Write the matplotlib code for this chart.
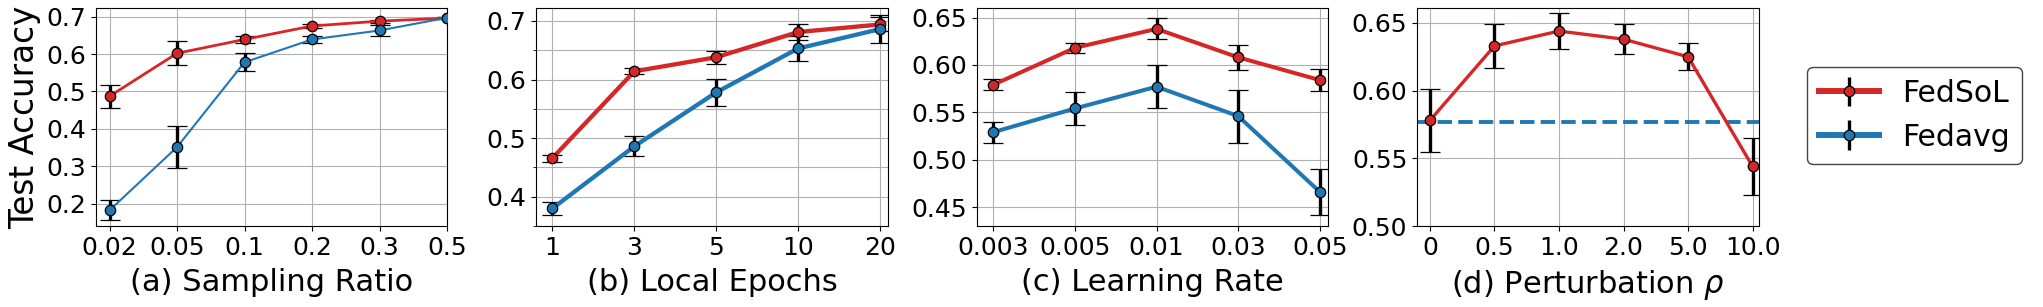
import numpy as np
import matplotlib
matplotlib.use("Agg")
import matplotlib.pyplot as plt
from matplotlib.ticker import MultipleLocator

# (a) sampling ratio
sr_labels = ["0.02", "0.05", "0.1", "0.2", "0.3", "0.5"]
sr_fedsol = [0.487, 0.602, 0.639, 0.675, 0.688, 0.696]
sr_fedsol_err = [0.031, 0.032, 0.010, 0.005, 0.004, 0.003]
sr_fedavg = [0.182, 0.351, 0.578, 0.639, 0.663, 0.697]
sr_fedavg_err = [0.027, 0.057, 0.024, 0.009, 0.014, 0.003]

# (b) local epochs
ep_labels = ["1", "3", "5", "10", "20"]
ep_fedsol = [0.466, 0.614, 0.638, 0.681, 0.694]
ep_fedsol_err = [0.006, 0.005, 0.011, 0.013, 0.012]
ep_fedavg = [0.380, 0.486, 0.578, 0.653, 0.686]
ep_fedavg_err = [0.011, 0.017, 0.023, 0.022, 0.024]

# (c) learning rate
lr_labels = ["0.003", "0.005", "0.01", "0.03", "0.05"]
lr_fedsol = [0.579, 0.618, 0.638, 0.608, 0.584]
lr_fedsol_err = [0.006, 0.005, 0.011, 0.013, 0.012]
lr_fedavg = [0.529, 0.554, 0.577, 0.546, 0.466]
lr_fedavg_err = [0.011, 0.017, 0.023, 0.028, 0.024]

# (d) perturbation rho
rho_labels = ["0", "0.5", "1.0", "2.0", "5.0", "10.0"]
rho_fedsol = [0.578, 0.633, 0.644, 0.638, 0.625, 0.544]
rho_fedsol_err = [0.023, 0.016, 0.013, 0.011, 0.010, 0.021]
fedavg_ref = 0.577

red = "#d62728"
blue = "#1f77b4"

plt.rcParams["font.family"] = "DejaVu Sans"
fig = plt.figure(figsize=(20.43, 3.07), dpi=100)

bottom, height = 0.2638, 0.710
ax_a = fig.add_axes([0.0470, bottom, 0.1718, height])
ax_b = fig.add_axes([0.2624, bottom, 0.1723, height])
ax_c = fig.add_axes([0.4782, bottom, 0.1718, height])
ax_d = fig.add_axes([0.6936, bottom, 0.1674, height])

eb = dict(fmt="-o", markersize=7.5, markeredgecolor="black", markeredgewidth=0.9,
          ecolor="black", elinewidth=2.4, capsize=7.5, capthick=1.0)


def panel(ax, labels, fs, fs_err, fa, fa_err, lw_fs, lw_fa, xlabel, xlim, ylim):
    x = np.arange(len(labels))
    ax.errorbar(x, fs, yerr=fs_err, color=red, lw=lw_fs, label="FedSoL", zorder=3, **eb)
    if fa is not None:
        ax.errorbar(x, fa, yerr=fa_err, color=blue, lw=lw_fa, label="Fedavg", zorder=3, **eb)
    ax.set_xticks(x)
    ax.set_xticklabels(labels)
    ax.set_xlim(*xlim)
    ax.set_ylim(*ylim)
    ax.set_xlabel(xlabel, fontsize=22, labelpad=6)
    ax.tick_params(labelsize=18)
    ax.grid(True, which="both", color="#b0b0b0", lw=0.8)
    ax.set_axisbelow(True)


panel(ax_a, sr_labels, sr_fedsol, sr_fedsol_err, sr_fedavg, sr_fedavg_err, 2.0, 1.5,
      "(a) Sampling Ratio", (-0.2, 5.0), (0.14, 0.723))
ax_a.set_ylabel("Test Accuracy", fontsize=23.5, labelpad=4)
ax_a.yaxis.set_major_locator(MultipleLocator(0.1))

panel(ax_b, ep_labels, ep_fedsol, ep_fedsol_err, ep_fedavg, ep_fedavg_err, 3.1, 3.1,
      "(b) Local Epochs", (-0.2, 4.1), (0.350, 0.722))
ax_b.yaxis.set_major_locator(MultipleLocator(0.1))
ax_b.yaxis.set_minor_locator(MultipleLocator(0.05))

panel(ax_c, lr_labels, lr_fedsol, lr_fedsol_err, lr_fedavg, lr_fedavg_err, 2.9, 2.9,
      "(c) Learning Rate", (-0.2, 4.1), (0.430, 0.660))
ax_c.yaxis.set_major_locator(MultipleLocator(0.05))
ax_c.yaxis.set_major_formatter("{x:.2f}")

panel(ax_d, rho_labels, rho_fedsol, rho_fedsol_err, None, None, 2.4, 2.4,
      r"(d) Perturbation $\rho$", (-0.2, 5.1), (0.50, 0.661))
ax_d.axhline(fedavg_ref, color=blue, lw=2.8, ls="--", zorder=2)
ax_d.yaxis.set_major_locator(MultipleLocator(0.05))
ax_d.yaxis.set_major_formatter("{x:.2f}")

# legend handles
lh1 = ax_d.errorbar([], [], yerr=[], color=red, lw=4.3, **eb)
lh2 = ax_d.errorbar([], [], yerr=[], color=blue, lw=4.3, **eb)
fig.legend([lh1, lh2], ["FedSoL", "Fedavg"], loc="upper left",
           bbox_to_anchor=(0.8845, 0.7818), borderaxespad=0, fontsize=21.5,
           edgecolor="#444444", framealpha=1.0)

fig.savefig("out.png", dpi=100)
